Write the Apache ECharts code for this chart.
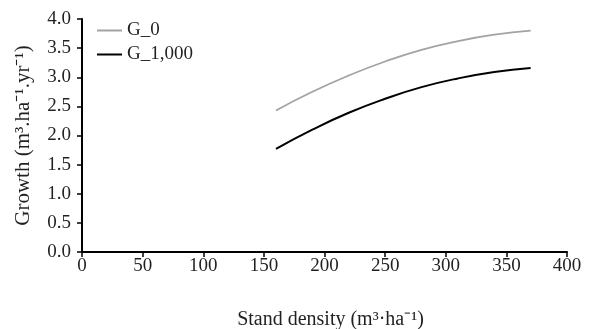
<!DOCTYPE html>
<html>
<head>
<meta charset="utf-8">
<script src="https://cdn.jsdelivr.net/npm/echarts@6/dist/echarts.min.js"></script>
<style>html,body{margin:0;padding:0;background:#fff}#c{width:611px;height:329px}</style>
</head>
<body>
<div id="c"></div>
<script>
const density = [160, 190, 220, 250, 280, 310, 340, 370];
const g0 = [2.43, 2.75, 3.03, 3.27, 3.47, 3.62, 3.73, 3.80];
const g1000 = [1.77, 2.10, 2.39, 2.63, 2.83, 2.98, 3.09, 3.16];
const xTicks = [0, 400, 50];
const yTicks = [0, 4, 0.5];

const font = 'Liberation Serif';
const chart = echarts.init(document.getElementById('c'), null, {renderer: 'canvas'});
chart.setOption({
  animation: false,
  backgroundColor: '#fff',
  textStyle: {fontFamily: font},
  grid: {left: 82, right: 44, top: 19, bottom: 77, containLabel: false, outerBoundsMode: 'none'},
  legend: {
    orient: 'vertical', left: 92, top: 16, itemWidth: 25, itemHeight: 2, itemGap: 5, icon: 'rect',
    textStyle: {fontFamily: font, fontSize: 19, color: '#231f20'},
    data: ['G_0', 'G_1,000']
  },
  xAxis: {
    type: 'value', min: xTicks[0], max: xTicks[1], interval: xTicks[2],
    name: 'Stand density (m³·ha⁻¹)', nameLocation: 'middle', nameGap: 58,
    nameTextStyle: {fontFamily: font, fontSize: 20, color: '#231f20', padding: [0, 0, 0, 12]},
    axisLine: {lineStyle: {color: '#000', width: 2}},
    axisTick: {inside: false, length: 5, lineStyle: {color: '#000', width: 1.5}},
    axisLabel: {fontFamily: font, fontSize: 19, color: '#231f20', margin: 5},
    splitLine: {show: false}
  },
  yAxis: {
    type: 'value', min: yTicks[0], max: yTicks[1], interval: yTicks[2],
    name: 'Growth (m³.ha⁻¹.yr⁻¹)', nameLocation: 'middle', nameGap: 48,
    nameTextStyle: {fontFamily: font, fontSize: 21, color: '#231f20'},
    axisLine: {show: true, lineStyle: {color: '#000', width: 2}},
    axisTick: {show: true, inside: false, length: 5, lineStyle: {color: '#000', width: 1.5}},
    axisLabel: {fontFamily: font, fontSize: 19, color: '#231f20', margin: 11,
      formatter: v => v.toFixed(1)},
    splitLine: {show: false}
  },
  series: [
    {name: 'G_0', type: 'line', smooth: true, symbol: 'none',
     data: density.map((d, i) => [d, g0[i]]),
     lineStyle: {color: '#a3a3a3', width: 1.8}, itemStyle: {color: '#a3a3a3'}},
    {name: 'G_1,000', type: 'line', smooth: true, symbol: 'none',
     data: density.map((d, i) => [d, g1000[i]]),
     lineStyle: {color: '#000', width: 2}, itemStyle: {color: '#000'}}
  ]
});
</script>
</body>
</html>
